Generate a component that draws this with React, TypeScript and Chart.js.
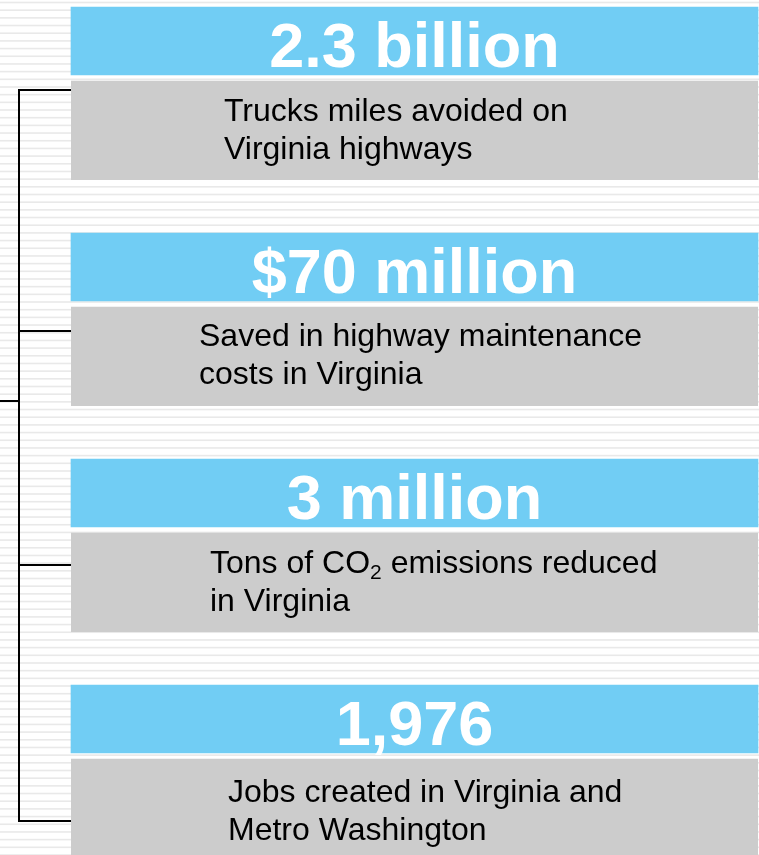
import React, { useEffect, useRef } from "react";
import { Chart, registerables } from "chart.js";

Chart.register(...registerables);

// ---- data ----
const headlines = ["2.3 billion", "$70 million", "3 million", "1,976"];
const descriptionLine1 = [
  "Trucks miles avoided on",
  "Saved in highway maintenance",
  "Tons of CO\u2082 emissions reduced",
  "Jobs created in Virginia and",
];
const descriptionLine2 = [
  "Virginia highways",
  "costs in Virginia",
  "in Virginia",
  "Metro Washington",
];
const panelSpan = headlines.map(() => [0, 1] as [number, number]);

// ---- layout constants (not data) ----
const W = 759;
const H = 855;
const BLUE = "#71CDF4";
const GRAY = "#CCCCCC";
const STRIPE = "#E9E9E9";
const descIndent = [153, 128, 139, 157];
const descNudge = [0, -1, 0, 3];
const connectorDrop = [15, 30, 38, 68];
const stubY = 401;
const bracketX = 19;

const FONT = '"Liberation Sans", Arial, Helvetica, sans-serif';

const backgroundPlugin = {
  id: "stripedBackground",
  beforeDraw(chart: any) {
    const ctx = chart.ctx;
    ctx.save();
    ctx.fillStyle = "#ffffff";
    ctx.fillRect(0, 0, chart.width, chart.height);
    ctx.fillStyle = STRIPE;
    for (let y = 2.5; y < chart.height + 8; y += 7.68) {
      ctx.fillRect(0, y - 0.8, chart.width, 1.6);
    }
    ctx.restore();
  },
};

const bracketPlugin = {
  id: "bracket",
  afterDatasetsDraw(chart: any) {
    const ctx = chart.ctx;
    const meta = chart.getDatasetMeta(0);
    const left = chart.chartArea.left;
    const ys: number[] = meta.data.map((el: any, i: number) => {
      const p = el.getProps(["y", "height"], true);
      return Math.round(p.y + p.height / 2 + connectorDrop[i]);
    });
    ctx.save();
    ctx.strokeStyle = "#000000";
    ctx.lineWidth = 2;
    ctx.lineCap = "butt";
    ctx.beginPath();
    ctx.moveTo(bracketX, ys[0] - 1);
    ctx.lineTo(bracketX, ys[ys.length - 1] + 1);
    ys.forEach((y) => {
      ctx.moveTo(bracketX, y);
      ctx.lineTo(left, y);
    });
    ctx.moveTo(0, stubY);
    ctx.lineTo(bracketX, stubY);
    ctx.stroke();
    ctx.restore();
  },
};

function drawWithSubscript(ctx: CanvasRenderingContext2D, text: string, x: number, y: number, size: number) {
  const parts = text.split("\u2082");
  let cx = x;
  parts.forEach((part, idx) => {
    ctx.font = `${size}px ${FONT}`;
    ctx.fillText(part, cx, y);
    cx += ctx.measureText(part).width;
    if (idx < parts.length - 1) {
      const sub = Math.round(size * 0.65);
      ctx.font = `${sub}px ${FONT}`;
      ctx.fillText("2", cx, y + 6);
      cx += ctx.measureText("2").width;
    }
  });
}

const textPlugin = {
  id: "panelText",
  afterDatasetsDraw(chart: any) {
    const ctx = chart.ctx;
    const head = chart.getDatasetMeta(0);
    const body = chart.getDatasetMeta(1);
    const left = chart.chartArea.left;
    ctx.save();
    head.data.forEach((el: any, i: number) => {
      const p = el.getProps(["x", "y", "base", "height"], true);
      const cx = (p.x + p.base) / 2;
      const bottom = p.y + p.height / 2;
      ctx.fillStyle = "#ffffff";
      ctx.textAlign = "center";
      ctx.textBaseline = "alphabetic";
      ctx.font = `bold 63px ${FONT}`;
      ctx.fillText(headlines[i], cx, bottom - 8);
    });
    body.data.forEach((el: any, i: number) => {
      const p = el.getProps(["y", "height"], true);
      const top = p.y - p.height / 2 + 6 + descNudge[i];
      ctx.fillStyle = "#000000";
      ctx.textAlign = "left";
      ctx.textBaseline = "alphabetic";
      const x = left + descIndent[i];
      drawWithSubscript(ctx, descriptionLine1[i], x, top + 40, 32);
      drawWithSubscript(ctx, descriptionLine2[i], x, top + 78, 32);
    });
    ctx.restore();
  },
};

export default function App() {
  const ref = useRef<HTMLCanvasElement | null>(null);

  useEffect(() => {
    if (!ref.current) return;
    const chart = new Chart(ref.current, {
      type: "bar",
      data: {
        labels: headlines,
        datasets: [
          {
            label: "headline",
            data: panelSpan as any,
            backgroundColor: BLUE,
            borderWidth: 0,
            barThickness: 68,
            clip: false as any,
          },
          {
            label: "description",
            data: panelSpan as any,
            backgroundColor: GRAY,
            borderColor: "rgba(0,0,0,0)",
            borderWidth: { top: 6, right: 0, bottom: 0, left: 0 } as any,
            borderSkipped: false,
            barThickness: 105,
            clip: false as any,
          },
        ],
      },
      options: {
        indexAxis: "y",
        responsive: false,
        animation: false,
        events: [],
        layout: { padding: { left: 71, right: 1, top: 75, bottom: 102 } },
        scales: {
          x: { type: "linear", min: 0, max: 1, display: false },
          y: { type: "category", offset: false, display: false, grid: { display: false } },
        },
        plugins: {
          legend: { display: false },
          tooltip: { enabled: false },
          title: { display: false },
        },
      },
      plugins: [backgroundPlugin, bracketPlugin, textPlugin],
    });
    return () => chart.destroy();
  }, []);

  return (
    <div style={{ position: "fixed", left: 0, top: 0, width: W, height: H, background: "#fff" }}>
      <canvas ref={ref} width={W} height={H} style={{ display: "block", width: W, height: H }} />
    </div>
  );
}
